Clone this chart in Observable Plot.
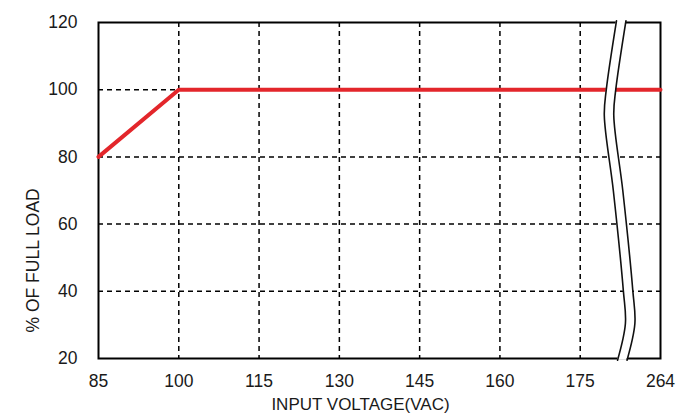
<!DOCTYPE html>
<html><head><meta charset="utf-8">
<script src="https://cdn.jsdelivr.net/npm/d3@7"></script>
<script src="https://cdn.jsdelivr.net/npm/@observablehq/plot@0.6"></script>
<style>body{margin:0;background:#fff}</style>
</head><body><div id="chart"></div>
<script>
// Data
const xTicks = [85, 100, 115, 130, 145, 160, 175, 264];
const yTicks = [20, 40, 60, 80, 100, 120];
const xGrid = [100, 115, 130, 145, 160, 175];
const yGrid = [40, 60, 80, 100];
const voltage = [85, 100, 264];
const load = [80, 100, 100];
// axis break (S-shaped double line between 175 and 264)
const breakY = [120.5, 100, 92.3, 70, 40.2, 30.4, 19.5];
const breakLeft = [215.2, 203.9, 201.7, 211.7, 222.8, 225.1, 216.4];
const breakRight = [225.7, 214.4, 212.2, 222.2, 233.3, 235.6, 226.9];
const xLabel = "INPUT VOLTAGE(VAC)";
const yLabel = "% OF FULL LOAD";

const W = 686, H = 416, mL = 98, mR = 26, mT = 22, mB = 58;
const pts = voltage.map((v, i) => ({x: v, y: load[i]}));
const brk = breakY.map((y, i) => ({y, l: breakLeft[i], r: breakRight[i]}));
const xRange = xTicks.map((d, i) => mL + i * (W - mL - mR) / (xTicks.length - 1));
const dash = {stroke: "#000", strokeOpacity: 1, strokeWidth: 1.5, strokeDasharray: "5,4"};

const chart = Plot.plot({
  width: W, height: H,
  marginLeft: mL, marginRight: mR, marginTop: mT, marginBottom: mB,
  style: {fontFamily: "'Liberation Sans', Arial, sans-serif", fontSize: "17px", color: "#1a1a1a", background: "#fff"},
  x: {type: "linear", domain: xTicks, range: xRange},
  y: {domain: [20, 120]},
  marks: [
    Plot.gridY(yGrid, dash),
    Plot.gridX(xGrid, dash),
    Plot.frame({stroke: "#000", strokeWidth: 2}),
    Plot.line(pts, {x: "x", y: "y", stroke: "#e3262b", strokeWidth: 4}),
    Plot.areaX(brk, {y: "y", x1: "l", x2: "r", fill: "white", curve: "catmull-rom"}),
    Plot.line(brk, {x: "l", y: "y", curve: "catmull-rom", stroke: "#111", strokeWidth: 1.6}),
    Plot.line(brk, {x: "r", y: "y", curve: "catmull-rom", stroke: "#111", strokeWidth: 1.6}),
    Plot.axisY({ticks: yTicks, tickSize: 0, tickPadding: 21, label: null, fontSize: 17.5}),
    Plot.axisX({ticks: xTicks, tickSize: 0, tickPadding: 16, label: null, fontSize: 17.5, tickFormat: d => String(d)}),
    Plot.text([xLabel], {frameAnchor: "bottom", dx: -19, dy: 46, lineAnchor: "middle", fontSize: 17, fill: "#1a1a1a"}),
    Plot.text([yLabel], {frameAnchor: "bottom-left", rotate: -90, textAnchor: "start", lineAnchor: "middle", dx: -65, dy: -26, fontSize: 17.5, fill: "#1a1a1a"})
  ]
});
document.getElementById("chart").append(chart);
</script>
</body></html>
